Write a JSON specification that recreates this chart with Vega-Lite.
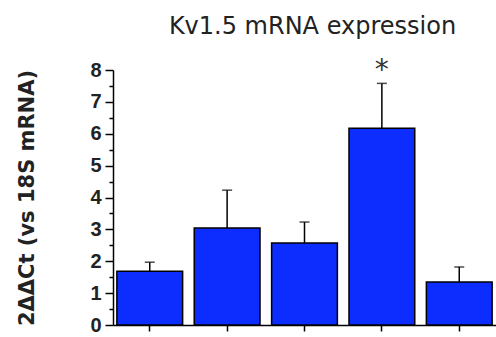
{
  "$schema": "https://vega.github.io/schema/vega-lite/v6.json",
  "autosize": {"type": "none"},
  "padding": {"left": 113, "top": 70, "right": 0, "bottom": 12},
  "width": 383,
  "height": 255,
  "title": {"text": "Kv1.5 mRNA expression", "font": "DejaVu Sans", "fontSize": 24, "fontWeight": "normal", "color": "#222", "anchor": "middle", "offset": 18, "dx": 8},
  "data": {"values": [
    {"group": "A", "value": 1.69, "err": 1.97, "sig": ""},
    {"group": "B", "value": 3.04, "err": 4.23, "sig": ""},
    {"group": "C", "value": 2.57, "err": 3.23, "sig": ""},
    {"group": "D", "value": 6.17, "err": 7.58, "sig": "*"},
    {"group": "E", "value": 1.35, "err": 1.82, "sig": ""}
  ]},
  "encoding": {
    "x": {"field": "group", "type": "nominal", "sort": null,
      "scale": {"paddingInner": 0.15, "paddingOuter": 0.05},
      "axis": {"title": null, "labels": false, "ticks": true, "tickSize": 6, "tickColor": "#000", "tickWidth": 1.5, "domainColor": "#000", "domainWidth": 1.5}}
  },
  "layer": [
    {
      "mark": {"type": "bar", "fill": "#0d2dff", "stroke": "#000", "strokeWidth": 1.5},
      "encoding": {
        "y": {"field": "value", "type": "quantitative", "title": "2ΔΔCt (vs 18S mRNA)",
          "scale": {"domain": [0, 8], "nice": false},
          "axis": {"values": [0, 0.5, 1, 1.5, 2, 2.5, 3, 3.5, 4, 4.5, 5, 5.5, 6, 6.5, 7, 7.5, 8]}}
      }
    },
    {
      "mark": {"type": "rule", "color": "#000", "strokeWidth": 1.5},
      "encoding": {"y": {"field": "value", "type": "quantitative", "title": "2ΔΔCt (vs 18S mRNA)", "axis": {"values": [0, 0.5, 1, 1.5, 2, 2.5, 3, 3.5, 4, 4.5, 5, 5.5, 6, 6.5, 7, 7.5, 8]}}, "y2": {"field": "err"}}
    },
    {
      "mark": {"type": "tick", "color": "#000", "size": 10, "thickness": 1.5},
      "encoding": {"y": {"field": "err", "type": "quantitative", "title": "2ΔΔCt (vs 18S mRNA)", "axis": {"values": [0, 0.5, 1, 1.5, 2, 2.5, 3, 3.5, 4, 4.5, 5, 5.5, 6, 6.5, 7, 7.5, 8]}}}
    },
    {
      "transform": [{"filter": "datum.sig !== ''"}],
      "mark": {"type": "text", "font": "DejaVu Sans", "fontSize": 28, "color": "#333", "baseline": "alphabetic", "dy": -4},
      "encoding": {"y": {"field": "err", "type": "quantitative", "title": "2ΔΔCt (vs 18S mRNA)", "axis": {"values": [0, 0.5, 1, 1.5, 2, 2.5, 3, 3.5, 4, 4.5, 5, 5.5, 6, 6.5, 7, 7.5, 8]}}, "text": {"field": "sig"}}
    }
  ],
  "config": {
    "view": {"stroke": null},
    "axis": {"grid": false, "tickColor": "#000", "domainColor": "#000", "domainWidth": 1.5},
    "axisY": {
      "titleFont": "DejaVu Sans", "titleFontSize": 21, "titleFontWeight": "bold", "titleColor": "#222", "titlePadding": 52,
      "labelExpr": "datum.value % 1 === 0 ? format(datum.value, 'd') : ''",
      "labelOverlap": false,
      "labelFont": "Liberation Sans", "labelFontSize": 20, "labelFontWeight": "bold", "labelColor": "#222", "labelPadding": 4,
      "tickSize": {"condition": {"test": "datum.value % 1 === 0", "value": 8}, "value": 4},
      "tickWidth": 1.5
    }
  }
}
